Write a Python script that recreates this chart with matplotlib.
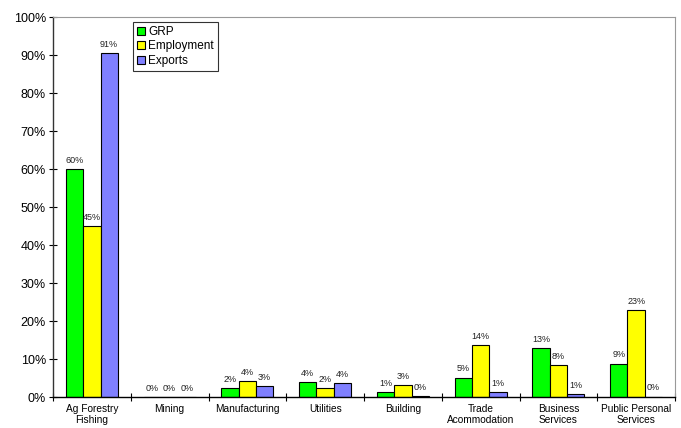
import numpy as np
import matplotlib.pyplot as plt
from matplotlib.ticker import FixedLocator, PercentFormatter

plt.rcParams['font.family'] = ['Liberation Sans', 'DejaVu Sans']

categories = ["Ag Forestry\nFishing", "Mining", "Manufacturing", "Utilities",
              "Building", "Trade\nAcommodation", "Business\nServices",
              "Public Personal\nServices"]
grp = [60.0, 0.0, 2.4, 3.9, 1.3, 5.1, 12.9, 8.8]
employment = [45.0, 0.0, 4.2, 2.4, 3.1, 13.6, 8.3, 22.8]
exports = [90.6, 0.0, 2.9, 3.7, 0.2, 1.3, 0.7, 0.1]

series = [("GRP", grp, "#00ff00"),
          ("Employment", employment, "#ffff00"),
          ("Exports", exports, "#8080ff")]

fig = plt.figure(figsize=(6.81, 4.28), dpi=100)
ax = fig.add_axes([53 / 681, 31 / 428, 622 / 681, 380 / 428])

x = np.arange(len(categories))
w = 1 / 4.5
for i, (name, vals, color) in enumerate(series):
    pos = x + (i - 1) * w
    ax.bar(pos, vals, width=w, color=color, edgecolor="black",
           linewidth=0.8, label=name)
    for px, v in zip(pos, vals):
        ax.annotate(f"{v:.0f}%", (px, v), xytext=(0, 3),
                    textcoords="offset points", ha="center", va="bottom",
                    fontsize=6.5, color="#222222")

ax.set_xlim(-0.5, len(categories) - 0.5)
ax.set_ylim(0, 100)
ax.yaxis.set_major_locator(FixedLocator(np.arange(0, 101, 10)))
ax.yaxis.set_major_formatter(PercentFormatter(decimals=0))
ax.tick_params(axis="y", direction="inout", length=6, width=0.8,
               labelsize=9, pad=2)

ax.set_xticks(x)
ax.set_xticklabels(categories, fontsize=7.3, linespacing=1.15)
ax.tick_params(axis="x", which="major", length=0, pad=5)
ax.set_xticks(np.arange(len(categories) + 1) - 0.5, minor=True)
ax.tick_params(axis="x", which="minor", direction="inout", length=6,
               width=0.8)

for side in ("top", "right"):
    ax.spines[side].set_color("#999999")
    ax.spines[side].set_linewidth(0.8)
ax.spines["left"].set_color("#333333")
ax.spines["bottom"].set_color("black")
ax.spines["left"].set_linewidth(1.0)
ax.spines["bottom"].set_linewidth(1.0)

leg = ax.legend(loc="upper left", bbox_to_anchor=(80 / 622, 1 - 5 / 380),
                fontsize=8.5, frameon=True, fancybox=False, handlelength=0.7,
                handleheight=0.7, handletextpad=0.25, borderpad=0.35,
                labelspacing=0.2, borderaxespad=0)
leg.get_frame().set_edgecolor("black")
leg.get_frame().set_linewidth(0.8)

fig.savefig("out.png", dpi=100)
